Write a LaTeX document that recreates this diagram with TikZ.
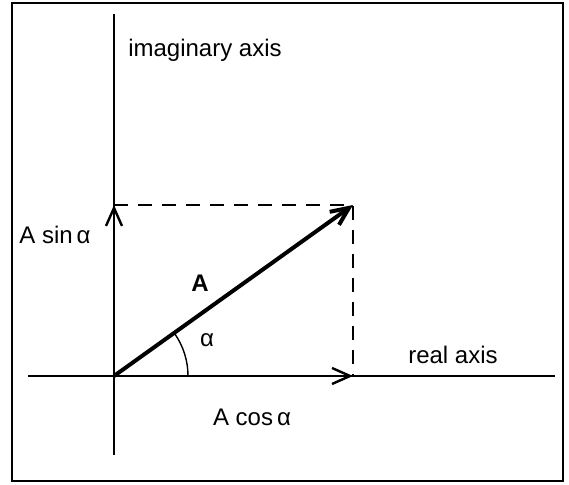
\documentclass[tikz,border=0pt]{standalone}
\usepackage{fontspec}
\setmainfont{Liberation Sans}
\usetikzlibrary{arrows.meta}
\begin{document}
\begin{tikzpicture}[x=0.5pt, y=0.5pt, >={Straight Barb[length=9pt,width=8pt]}, every node/.style={font=\fontsize{12}{14}\selectfont}]
\useasboundingbox (0,0) rectangle (569,485);
\draw[line width=1pt] (12,4) rectangle (563,482);
\coordinate (o) at (114,109);
\coordinate (top) at (114,471);
\coordinate (bot) at (114,30);
\coordinate (left) at (28,109);
\coordinate (right) at (555,109);
\coordinate (p) at (353,280);
\coordinate (px) at (353,109);
\coordinate (py) at (114,280);
\draw[line width=1.2pt] (bot) -- (top);
\draw[line width=1.2pt] (left) -- (right);
\draw[line width=1.2pt,->] (o) -- (px);
\draw[line width=1.2pt,->] (o) -- (py);
\draw[line width=2pt,->] (o) -- (p);
\draw[line width=1.1pt,dash pattern=on 7pt off 5pt] (py) -- (p) -- (px);
\draw[line width=0.7pt] (o) ++(74,0) arc (0:35:74);
\node (im) at (205,435) {imaginary axis};
\node (re) at (453,130) {real axis};
\node (sin) at (55,250) {A sin\,α};
\node (cos) at (252,68) {A cos\,α};
\node (a) at (200,202) {\textbf{A}};
\node (al) at (207,145) {α};
\end{tikzpicture}
\end{document}
